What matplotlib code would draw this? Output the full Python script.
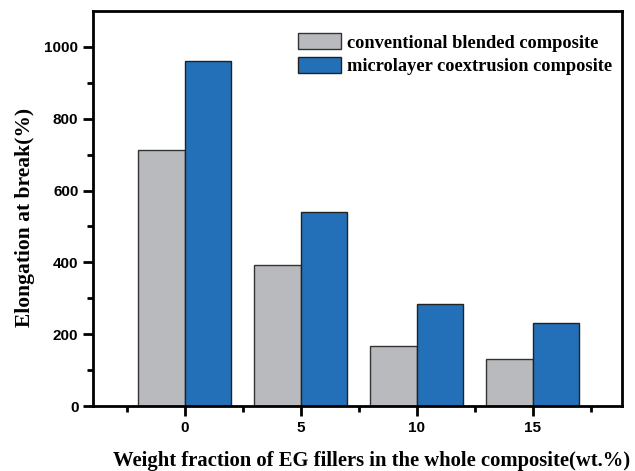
import matplotlib.pyplot as plt
import numpy as np

# values
fillers = [0, 5, 10, 15]
conventional = [713, 394, 168, 131]
microlayer = [962, 540, 283, 232]
labels = ['conventional blended composite', 'microlayer coextrusion composite']

fig = plt.figure(figsize=(6.35, 4.71), dpi=100)
ax = fig.add_axes([0.1465, 0.138, 0.833, 0.8386])

x = np.array(fillers)
ax.bar(x - 1, conventional, width=2, color='#b9babd', edgecolor='#333333', linewidth=1.0, label=labels[0])
ax.bar(x + 1, microlayer, width=2, color='#2370b8', edgecolor='#222222', linewidth=1.0, label=labels[1])

ax.set_xlim(-3.95, 18.85)
ax.set_ylim(0, 1100)
ax.set_xticks(fillers)
ax.set_xticks([-2.5, 2.5, 7.5, 12.5, 17.5], minor=True)
ax.set_yticks([0, 200, 400, 600, 800, 1000])
ax.set_yticks([100, 300, 500, 700, 900], minor=True)

for s in ax.spines.values():
    s.set_linewidth(2)
ax.tick_params(which='major', direction='out', length=7, width=2, labelsize=11)
ax.tick_params(which='minor', direction='out', length=4, width=2)
for t in ax.get_xticklabels() + ax.get_yticklabels():
    t.set_fontfamily('Liberation Sans')
    t.set_fontweight('bold')

ax.set_xlabel('Weight fraction of EG fillers in the whole composite(wt.%)',
              fontfamily='Liberation Serif', fontweight='bold', fontsize=14.9)
ax.set_ylabel('Elongation at break(%)',
              fontfamily='Liberation Serif', fontweight='bold', fontsize=15.5)
ax.xaxis.set_label_coords(0.527, -0.113)
ax.yaxis.set_label_coords(-0.110, 0.478)

leg = ax.legend(loc='upper left', bbox_to_anchor=(0.357, 0.985), frameon=False,
                prop={'family': 'Liberation Serif', 'weight': 'bold', 'size': 13.2},
                handlelength=2.35, handleheight=0.93, handletextpad=0.3, labelspacing=0.3)

fig.savefig('out.png', dpi=100)
